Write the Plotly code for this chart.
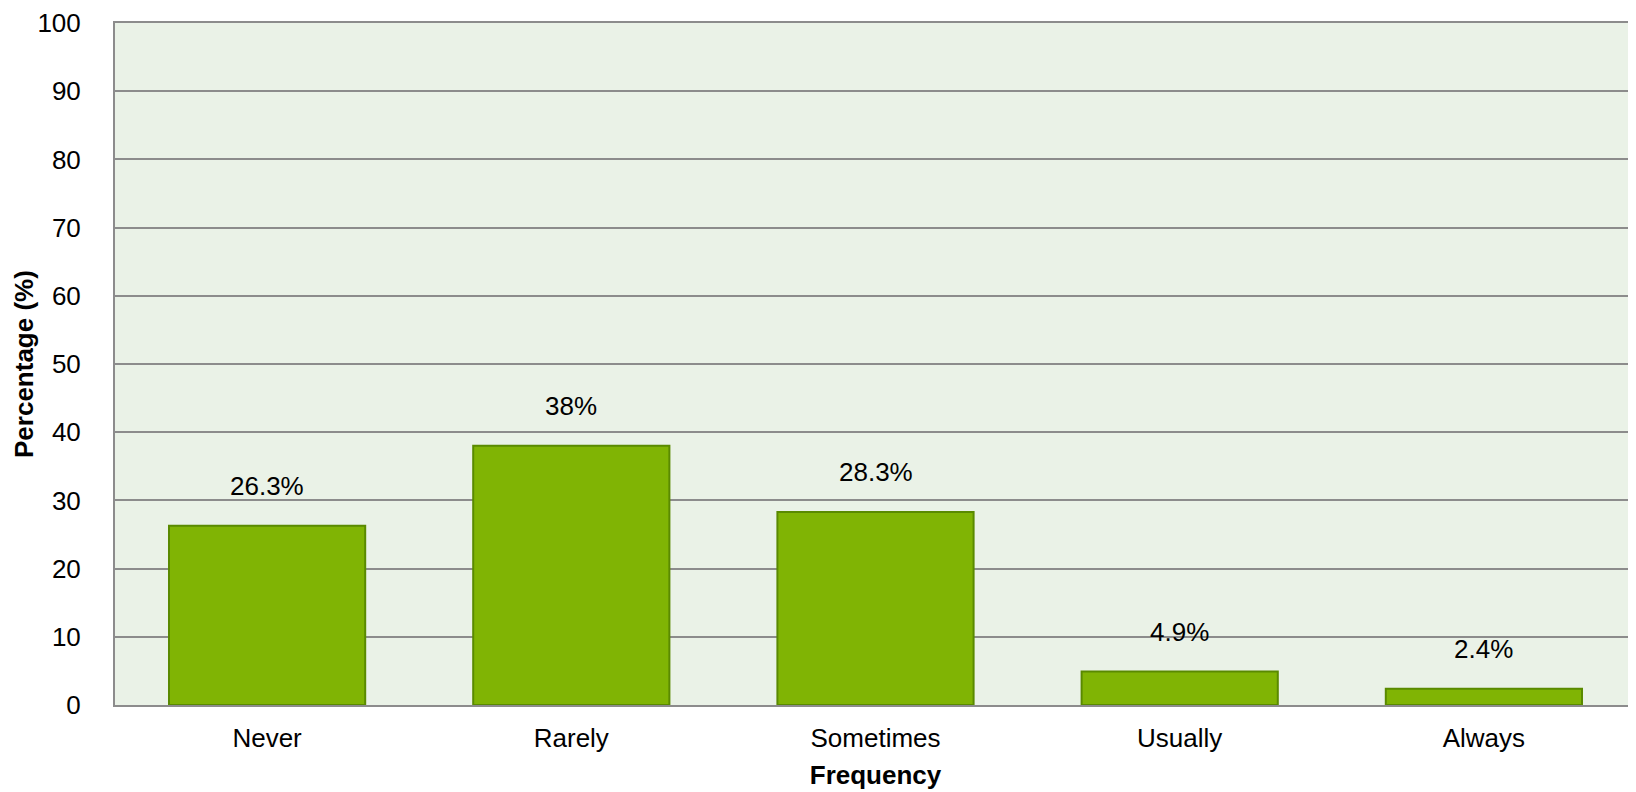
import plotly.graph_objects as go

# Data
categories = ["Never", "Rarely", "Sometimes", "Usually", "Always"]
percentages = [26.3, 38.0, 28.3, 4.9, 2.4]
value_labels = ["26.3%", "38%", "28.3%", "4.9%", "2.4%"]

# Style tokens
FONT = "Liberation Sans, Arial, sans-serif"
PLOT_BG = "#EAF2E7"
GRID = "#8C8C8C"
BAR_FILL = "#80B404"
BAR_EDGE = "#5A8A00"
INK = "#000000"
FS = 26

fig = go.Figure()

fig.add_trace(
    go.Bar(
        x=categories,
        y=percentages,
        width=0.645,
        marker={"color": BAR_FILL, "line": {"color": BAR_EDGE, "width": 2}},
        hovertemplate="%{x}: %{y}%<extra></extra>",
    )
)

# Value labels above the bars
annotations = [
    {
        "x": cat,
        "y": val,
        "text": lbl,
        "showarrow": False,
        "xanchor": "center",
        "yanchor": "bottom",
        "yshift": 23,
        "font": {"family": FONT, "size": FS, "color": INK},
    }
    for cat, val, lbl in zip(categories, percentages, value_labels)
]

# y title as an annotation so it can sit closer to the page edge
annotations.append(
    {
        "text": "<b>Percentage (%)</b>",
        "xref": "paper",
        "yref": "paper",
        "x": 0,
        "y": 0.5,
        "xanchor": "center",
        "yanchor": "middle",
        "xshift": -91,
        "textangle": -90,
        "showarrow": False,
        "font": {"family": FONT, "size": FS, "color": INK},
    }
)

# page body has an 8px margin, so the figure is sized to fill the rest
fig.update_layout(
    width=1628,
    height=784,
    paper_bgcolor="#FFFFFF",
    plot_bgcolor=PLOT_BG,
    margin={"l": 107, "r": 0, "t": 12, "b": 87},
    showlegend=False,
    font={"family": FONT, "size": FS, "color": INK},
    annotations=annotations,
    xaxis={
        "title": {"text": "<b>Frequency</b>", "font": {"size": FS}, "standoff": 14},
        "tickfont": {"size": FS},
        "showline": True,
        "mirror": True,
        "linecolor": GRID,
        "linewidth": 2,
        "showgrid": False,
        "ticks": "",
        "ticklabelstandoff": 9,
    },
    yaxis={
        "range": [0, 100],
        "dtick": 10,
        "tickfont": {"size": FS},
        "showline": True,
        "linecolor": GRID,
        "linewidth": 2,
        "gridcolor": GRID,
        "gridwidth": 2,
        "zeroline": False,
        "ticks": "",
        "ticklabelstandoff": 27,
        "ticklabeloverflow": "allow",
    },
)

fig.write_html("out.html")
